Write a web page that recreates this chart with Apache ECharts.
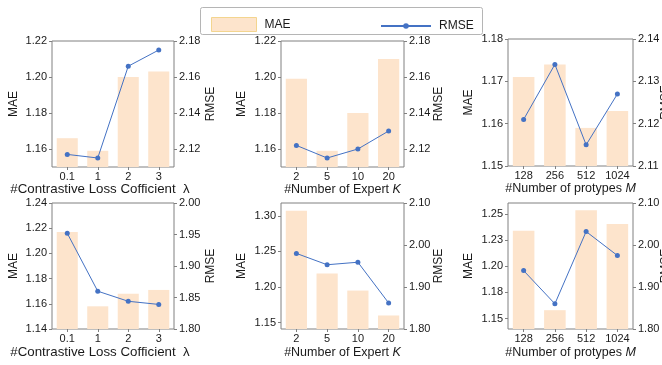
<!DOCTYPE html>
<html><head><meta charset="utf-8">
<script src="https://cdn.jsdelivr.net/npm/echarts@6/dist/echarts.min.js"></script>
<style>html,body{margin:0;padding:0;background:#fff}#c{width:662px;height:365px}</style>
</head><body><div id="c"></div>
<script>
// ---- categories ----
const catsLambda = ['0.1', '1', '2', '3'];
const catsExpert = ['2', '5', '10', '20'];
const catsProto  = ['128', '256', '512', '1024'];

// ---- series values (top row) ----
const maeLambdaTop  = [1.166, 1.159, 1.200, 1.203];
const rmseLambdaTop = [2.117, 2.115, 2.166, 2.175];
const maeExpertTop  = [1.199, 1.159, 1.180, 1.210];
const rmseExpertTop = [2.122, 2.115, 2.120, 2.130];
const maeProtoTop   = [1.171, 1.174, 1.159, 1.163];
const rmseProtoTop  = [2.121, 2.134, 2.115, 2.127];

// ---- series values (bottom row) ----
const maeLambdaBot  = [1.217, 1.158, 1.168, 1.171];
const rmseLambdaBot = [1.952, 1.860, 1.844, 1.839];
const maeExpertBot  = [1.307, 1.219, 1.195, 1.160];
const rmseExpertBot = [1.980, 1.953, 1.959, 1.862];
const maeProtoBot   = [1.234, 1.158, 1.2535, 1.2405];
const rmseProtoBot  = [1.939, 1.860, 2.032, 1.975];

// ---- axis ranges ----
const maeRangeLambdaTop = [1.15, 1.22];   const rmseRangeLambdaTop = [2.11, 2.18];
const maeRangeExpertTop = [1.15, 1.22];   const rmseRangeExpertTop = [2.11, 2.18];
const maeRangeProtoTop  = [1.15, 1.18];   const rmseRangeProtoTop  = [2.11, 2.14];
const maeRangeLambdaBot = [1.14, 1.24];   const rmseRangeLambdaBot = [1.80, 2.00];
const maeRangeExpertBot = [1.141, 1.318]; const rmseRangeExpertBot = [1.80, 2.10];
const maeRangeProtoBot  = [1.140, 1.2605];const rmseRangeProtoBot  = [1.80, 2.10];

// ---- tick values and tick labels ----
const maeTicksLambdaTop = [1.16, 1.18, 1.20, 1.22];
const maeLabelsLambdaTop = ['1.16', '1.18', '1.20', '1.22'];
const rmseTicksLambdaTop = [2.12, 2.14, 2.16, 2.18];
const rmseLabelsLambdaTop = ['2.12', '2.14', '2.16', '2.18'];
const maeTicksExpertTop = [1.16, 1.18, 1.20, 1.22];
const maeLabelsExpertTop = ['1.16', '1.18', '1.20', '1.22'];
const rmseTicksExpertTop = [2.12, 2.14, 2.16, 2.18];
const rmseLabelsExpertTop = ['2.12', '2.14', '2.16', '2.18'];
const maeTicksProtoTop = [1.15, 1.16, 1.17, 1.18];
const maeLabelsProtoTop = ['1.15', '1.16', '1.17', '1.18'];
const rmseTicksProtoTop = [2.11, 2.12, 2.13, 2.14];
const rmseLabelsProtoTop = ['2.11', '2.12', '2.13', '2.14'];
const maeTicksLambdaBot = [1.14, 1.16, 1.18, 1.20, 1.22, 1.24];
const maeLabelsLambdaBot = ['1.14', '1.16', '1.18', '1.20', '1.22', '1.24'];
const rmseTicksLambdaBot = [1.80, 1.85, 1.90, 1.95, 2.00];
const rmseLabelsLambdaBot = ['1.80', '1.85', '1.90', '1.95', '2.00'];
const maeTicksExpertBot = [1.15, 1.20, 1.25, 1.30];
const maeLabelsExpertBot = ['1.15', '1.20', '1.25', '1.30'];
const rmseTicksExpertBot = [1.80, 1.90, 2.00, 2.10];
const rmseLabelsExpertBot = ['1.80', '1.90', '2.00', '2.10'];
const maeTicksProtoBot = [1.15, 1.175, 1.20, 1.225, 1.25];
const maeLabelsProtoBot = ['1.15', '1.18', '1.20', '1.23', '1.25'];
const rmseTicksProtoBot = [1.80, 1.90, 2.00, 2.10];
const rmseLabelsProtoBot = ['1.80', '1.90', '2.00', '2.10'];

// ---- axis titles ----
const titleLambda = '#Contrastive Loss Cofficient  λ';
const titleExpert = '#Number of Expert {i|K}';
const titleProto  = '#Number of protypes {i|M}';

const panels = [
  {cats: catsLambda, mae: maeLambdaTop, rmse: rmseLambdaTop, mr: maeRangeLambdaTop, rr: rmseRangeLambdaTop,
   mt: maeTicksLambdaTop, ml: maeLabelsLambdaTop, rt: rmseTicksLambdaTop, rl: rmseLabelsLambdaTop, title: titleLambda},
  {cats: catsExpert, mae: maeExpertTop, rmse: rmseExpertTop, mr: maeRangeExpertTop, rr: rmseRangeExpertTop,
   mt: maeTicksExpertTop, ml: maeLabelsExpertTop, rt: rmseTicksExpertTop, rl: rmseLabelsExpertTop, title: titleExpert},
  {cats: catsProto, mae: maeProtoTop, rmse: rmseProtoTop, mr: maeRangeProtoTop, rr: rmseRangeProtoTop,
   mt: maeTicksProtoTop, ml: maeLabelsProtoTop, rt: rmseTicksProtoTop, rl: rmseLabelsProtoTop, title: titleProto},
  {cats: catsLambda, mae: maeLambdaBot, rmse: rmseLambdaBot, mr: maeRangeLambdaBot, rr: rmseRangeLambdaBot,
   mt: maeTicksLambdaBot, ml: maeLabelsLambdaBot, rt: rmseTicksLambdaBot, rl: rmseLabelsLambdaBot, title: titleLambda},
  {cats: catsExpert, mae: maeExpertBot, rmse: rmseExpertBot, mr: maeRangeExpertBot, rr: rmseRangeExpertBot,
   mt: maeTicksExpertBot, ml: maeLabelsExpertBot, rt: rmseTicksExpertBot, rl: rmseLabelsExpertBot, title: titleExpert},
  {cats: catsProto, mae: maeProtoBot, rmse: rmseProtoBot, mr: maeRangeProtoBot, rr: rmseRangeProtoBot,
   mt: maeTicksProtoBot, ml: maeLabelsProtoBot, rt: rmseTicksProtoBot, rl: rmseLabelsProtoBot, title: titleProto}
];

// ---- layout (pixels) ----
const layout = [
  {left: 52,  top: 41,  width: 122, height: 126, lGap: 32, rGap: 31, xGap: 14, xFont: 13.3, xPadR: 26},
  {left: 281, top: 41,  width: 123, height: 126, lGap: 33, rGap: 29, xGap: 14, xFont: 12.5, xPadR: 0},
  {left: 508, top: 39,  width: 125, height: 127, lGap: 33, rGap: 27, xGap: 15, xFont: 12.5, xPadR: 0},
  {left: 52,  top: 203, width: 122, height: 126, lGap: 32, rGap: 31, xGap: 17, xFont: 13.3, xPadR: 26},
  {left: 281, top: 203, width: 123, height: 126, lGap: 33, rGap: 29, xGap: 17, xFont: 12.5, xPadR: 0},
  {left: 508, top: 203, width: 125, height: 126, lGap: 33, rGap: 27, xGap: 17, xFont: 12.5, xPadR: 0}
];

const FONT = 'Liberation Sans, Arial, sans-serif';
const TXT = '#1a1a1a';
const SPINE = '#808080';
const BAR = '#fde4cc';
const LINE = '#4472c4';

const grid = [], xAxis = [], yAxis = [], series = [];
panels.forEach((p, i) => {
  const L = layout[i];
  grid.push({left: L.left, top: L.top, width: L.width, height: L.height, show: true,
    borderColor: SPINE, borderWidth: 1, backgroundColor: 'transparent', containLabel: false,
    outerBoundsMode: 'none'});
  xAxis.push({type: 'category', gridIndex: i, data: p.cats,
    axisLine: {show: false},
    axisTick: {show: true, alignWithLabel: true, length: 3, lineStyle: {color: SPINE}},
    axisLabel: {color: TXT, fontFamily: FONT, fontSize: 11, margin: 4, interval: 0},
    name: p.title, nameLocation: 'middle', nameGap: L.xGap,
    nameTextStyle: {color: TXT, fontFamily: FONT, fontSize: L.xFont, verticalAlign: 'top',
      padding: [0, L.xPadR, 0, 0],
      rich: {i: {fontStyle: 'italic', fontFamily: FONT, fontSize: L.xFont, color: TXT}}}
  });
  const mk = (range, ticks, labels, pos, nm, gap) => ({
    type: 'value', gridIndex: i, position: pos, min: range[0], max: range[1],
    splitLine: {show: false}, axisLine: {show: false},
    axisTick: {show: true, length: 3, lineStyle: {color: SPINE}, customValues: ticks},
    axisLabel: {color: TXT, fontFamily: FONT, fontSize: 11, margin: 5, customValues: ticks,
      formatter: (v) => { const k = ticks.findIndex(t => Math.abs(t - v) < 1e-9); return k >= 0 ? labels[k] : ''; }},
    name: nm, nameLocation: 'middle', nameRotate: 90, nameGap: gap, nameMoveOverlap: false,
    nameTextStyle: {color: TXT, fontFamily: FONT, fontSize: 12}
  });
  yAxis.push(mk(p.mr, p.mt, p.ml, 'left', 'MAE', L.lGap));
  yAxis.push(mk(p.rr, p.rt, p.rl, 'right', 'RMSE', L.rGap));
  series.push({type: 'bar', name: 'MAE', xAxisIndex: i, yAxisIndex: 2 * i, data: p.mae,
    barCategoryGap: '31%', itemStyle: {color: BAR}, silent: true, z: 1});
  series.push({type: 'line', name: 'RMSE', xAxisIndex: i, yAxisIndex: 2 * i + 1, data: p.rmse,
    symbol: 'circle', symbolSize: 5, showSymbol: true, clip: false,
    lineStyle: {color: LINE, width: 1}, itemStyle: {color: LINE}, z: 3, silent: true});
});

const option = {
  animation: false,
  backgroundColor: '#fff',
  grid, xAxis, yAxis, series,
  legend: [
    {left: 206, top: 12, itemWidth: 45, itemHeight: 14, selectedMode: false,
     data: [{name: 'MAE', icon: 'rect', itemStyle: {color: BAR, borderColor: '#f3d58f', borderWidth: 1}}],
     textStyle: {color: TXT, fontFamily: FONT, fontSize: 12, padding: [0, 0, 0, 3]}},
    {left: 375, top: 15, itemWidth: 50, itemHeight: 7, selectedMode: false,
     data: [{name: 'RMSE'}],
     textStyle: {color: TXT, fontFamily: FONT, fontSize: 12, padding: [0, 0, 0, 3]}}
  ],
  graphic: [{type: 'rect', left: 198, top: 5, shape: {width: 282, height: 27, r: 2},
    style: {fill: 'none', stroke: '#b5b5b5', lineWidth: 1}, z: -1}]
};
const chart = echarts.init(document.getElementById('c'), null, {renderer: 'canvas'});
chart.setOption(option);
</script></body></html>
